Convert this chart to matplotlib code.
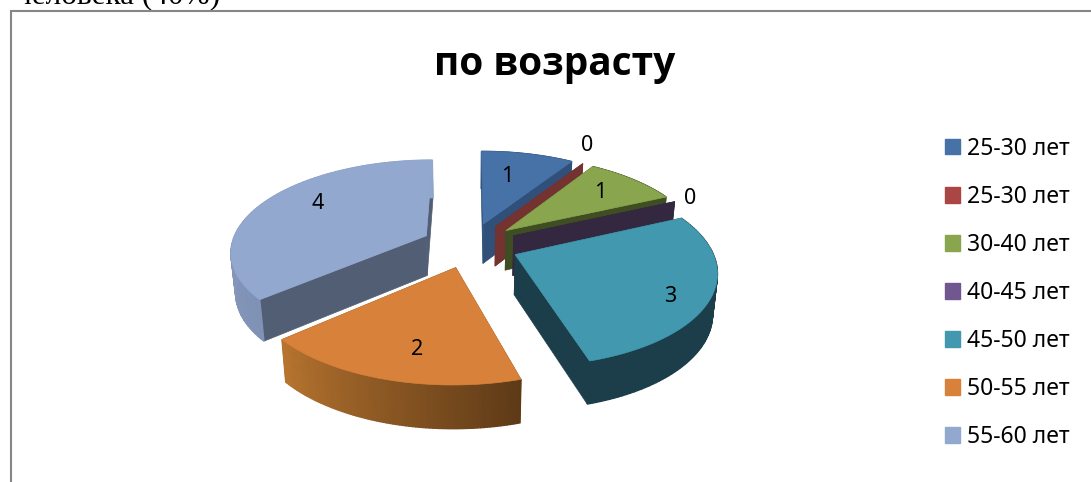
import numpy as np
import matplotlib
matplotlib.use("Agg")
import matplotlib.pyplot as plt
from matplotlib.colors import to_rgb
from matplotlib.patches import Patch, Polygon

# данные диаграммы
categories = ["25-30 лет", "25-30 лет", "30-40 лет", "40-45 лет", "45-50 лет", "50-55 лет", "55-60 лет"]
values = [1, 0, 1, 0, 3, 2, 4]
title = "по возрасту"
caption = "человека (40%)"

top_colors = ["#4672a8", "#aa4644", "#89a64e", "#71578f", "#4198af", "#d8813b", "#92a8ce"]
wall_colors = ["#30507a", "#743231", "#3f4d22", "#33283f", "#1c3e4b", "#7a4a20", "#525e74"]
rim_start = ["#30507a", "#743231", "#3f4d22", "#33283f", "#1c3e4b", "#5e3a17", "#7f91b5"]
rim_end = ["#30507a", "#743231", "#3f4d22", "#33283f", "#1c3e4b", "#b8752f", "#93a7cc"]
label_radius = [0.64, 1.27, 0.72, 1.1, 0.83, 0.75, 0.73]
label_shift = [-3, -5, 0, 0, 6, -4, 8]  # градусы
draw_order = [6, 0, 1, 2, 3, 4, 5]

# геометрия псевдо-3D круга (пиксели)
cx, cy = 470, 245
rx, ry = 195, 90.5
persp = 0.16
explode = 0.25
depth = 40
shrink = 0.98


def project(u, v, lower=False):
    s = 1 / (1 - persp * v)
    x = cx + u * rx * s
    y = cy + v * ry * s
    if lower:
        x = cx + (x - cx) * shrink
        y = y + depth * s ** 0.4
    return x, y


def disc(theta, r, mid):
    # угол по часовой стрелке от верха, центр сектора смещен наружу
    u = r * np.sin(theta) + explode * np.sin(mid)
    v = -r * np.cos(theta) - explode * np.cos(mid)
    return u, v


fig = plt.figure(figsize=(10.91, 4.82), dpi=100)
ax = fig.add_axes([0, 0, 1, 1])
ax.set_xlim(0, 1091)
ax.set_ylim(482, 0)
ax.axis("off")

# начало и конец секторов
angles = np.cumsum([0] + values) / sum(values) * 2 * np.pi

for i in draw_order:
    a0, a1 = angles[i], angles[i + 1]
    mid = (a0 + a1) / 2
    apex_u, apex_v = disc(0, 0, mid)
    z = 2 + draw_order.index(i) * 3

    # боковые стенки
    for a in (a0, a1):
        u, v = disc(a, 1, mid)
        ax.add_patch(Polygon([project(apex_u, apex_v), project(u, v), project(u, v, True), project(apex_u, apex_v, True)],
                             closed=True, facecolor=wall_colors[i], edgecolor=wall_colors[i], linewidth=0.5, zorder=z))

    if values[i] == 0:
        continue

    # внешняя стенка с градиентом
    n = 80
    tt = np.linspace(a0, a1, n + 1)
    c0, c1 = np.array(to_rgb(rim_start[i])), np.array(to_rgb(rim_end[i]))
    for k in range(n):
        u0, v0 = disc(tt[k], 1, mid)
        u1, v1 = disc(tt[k + 1], 1, mid)
        col = c0 + (c1 - c0) * (k / n)
        ax.add_patch(Polygon([project(u0, v0), project(u1, v1), project(u1, v1, True), project(u0, v0, True)],
                             closed=True, facecolor=col, edgecolor=col, linewidth=1.0, zorder=z + 1))

    # верхняя грань
    pts = [project(apex_u, apex_v)] + [project(*disc(t, 1, mid)) for t in tt]
    ax.add_patch(Polygon(pts, closed=True, facecolor=top_colors[i], edgecolor=top_colors[i], linewidth=0.5, zorder=z + 2))

# подписи значений
for i, val in enumerate(values):
    mid = (angles[i] + angles[i + 1]) / 2
    x, y = project(*disc(mid + np.radians(label_shift[i]), label_radius[i], mid))
    ax.text(x, y, str(val), fontsize=15.5, family="Noto Sans", color="black", ha="center", va="center", zorder=50)

ax.text(555, 65, title, fontsize=28, fontweight="bold", family="Open Sans", color="black", ha="center", va="center", zorder=50)
ax.text(16, 3, caption, fontsize=22.5, family="Liberation Serif", color="black", ha="left", va="baseline", zorder=1)

# рамка диаграммы
ax.plot([10.5, 10.5, 1091], [482, 10.5, 10.5], color="#868686", linewidth=1.5, zorder=60, solid_joinstyle="miter")

handles = [Patch(facecolor=c, edgecolor=c) for c in top_colors]
leg = ax.legend(handles, categories, loc="center left", bbox_to_anchor=(945 / 1091, 1 - 293 / 482), frameon=False,
                prop={"family": "Noto Sans", "size": 16.5}, handlelength=0.655, handleheight=0.655, handletextpad=0.3,
                labelspacing=1.05, borderpad=0, borderaxespad=0)

fig.savefig("out.png", dpi=100)
